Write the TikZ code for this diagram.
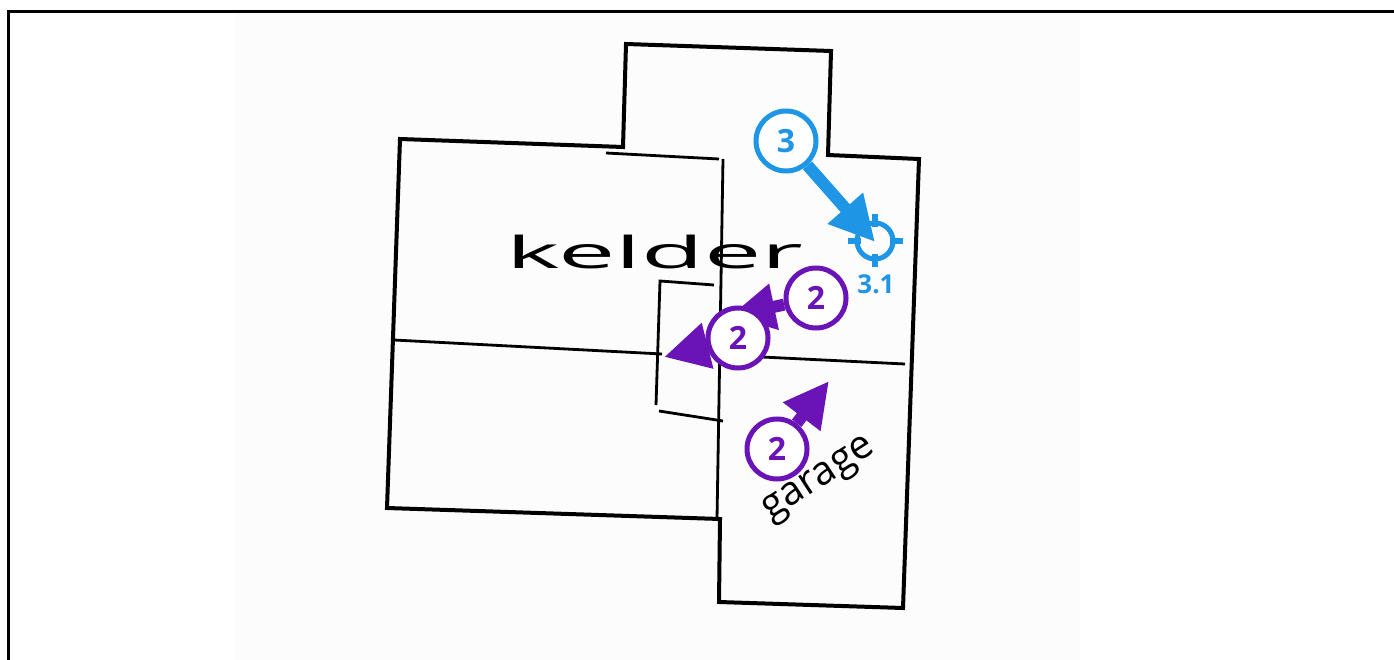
\documentclass[tikz,border=0pt]{standalone}
\usepackage{fontspec}
\setsansfont{Open Sans}
\usetikzlibrary{arrows.meta}
\definecolor{paars}{HTML}{6A14B8}
\definecolor{blauw}{HTML}{1F95E6}
\tikzset{
    muur/.style={line width=4pt, line join=miter},
    binnen/.style={line width=2.8pt},
    cirkel/.style={circle, draw, fill=white, line width=5pt, minimum size=60pt, inner sep=0pt, font=\sffamily\bfseries\fontsize{32}{32}\selectfont},
    pijl/.style={line width=12pt, -{Triangle[length=45pt,width=44pt]}}
}
\begin{document}
\begin{tikzpicture}[x=1pt,y=-1pt]
\useasboundingbox (0,0) rectangle (1394,660);
% Achtergrond
\fill[white] (0,0) rectangle (1394,660);
\fill[black!1.2] (235,12) rectangle (1080,660);
\draw[line width=3.5pt] (8.5,660) -- (8.5,11.5) -- (1394,11.5);
% Plattegrond
\draw[muur] (626,44) -- (831,51) -- (828,155) -- (919,159) -- (903,608) -- (719,602) -- (720,519) -- (387,508) -- (400,139) -- (623,147) -- cycle;
\draw[binnen] (606,153) -- (719,159);
\draw[binnen] (723,159) -- (717,519);
\draw[binnen] (394,340) -- (662,354);
\draw[binnen] (714,285) -- (660,281) -- (656,405);
\draw[binnen] (659,411) -- (723,421);
\draw[binnen] (762,357) -- (905,364);
% Teksten
\node[xscale=2.32, font=\sffamily\fontsize{44}{44}\selectfont, inner sep=0pt] (kelder) at (655,252) {kelder};
\node[rotate=33, font=\sffamily\fontsize{40}{40}\selectfont, inner sep=0pt] (garage) at (820,481) {garage};
% Doel
\node[circle, draw=blauw, line width=5pt, minimum size=36pt, inner sep=0pt] (doel) at (875,241) {};
\foreach \a in {0,90,180,270} {
    \draw[blauw, line width=5.5pt] (doel.\a) ++(\a:-6) -- ++(\a:13);
}
\node[blauw, font=\sffamily\bfseries\fontsize{26}{26}\selectfont, inner sep=0pt] (doellabel) at (876,284) {3.1};
% Blauwe pijl
\node[cirkel, draw=blauw, text=blauw] (drie) at (786,141) {3};
\coordinate (drietip) at (875,242);
\draw[pijl, blauw] (drie) -- (drietip);
% Paarse pijlen
\node[cirkel, draw=paars, text=paars] (tweea) at (816,298) {2};
\coordinate (tweeatip) at (730,316);
\draw[pijl, paars] (tweea) -- (tweeatip);
\node[cirkel, draw=paars, text=paars] (tweeb) at (738,338) {2};
\coordinate (tweebtip) at (664,357);
\draw[pijl, paars] (tweeb) -- (tweebtip);
\node[cirkel, draw=paars, text=paars] (tweec) at (777,449) {2};
\coordinate (tweectip) at (829,381);
\draw[pijl, paars] (tweec) -- (tweectip);
\end{tikzpicture}
\end{document}
